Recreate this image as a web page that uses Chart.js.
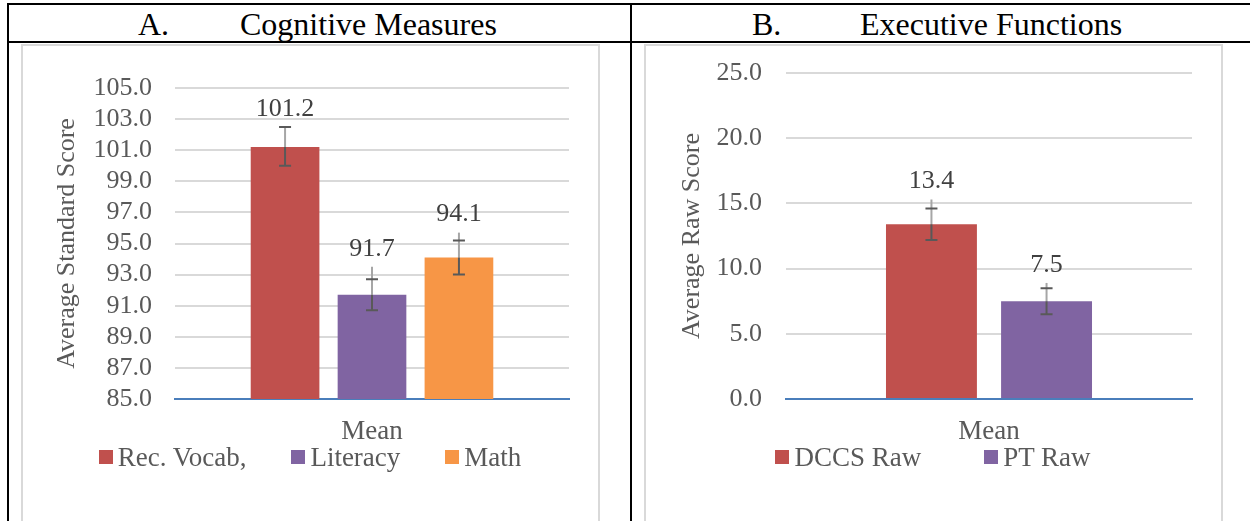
<!DOCTYPE html>
<html>
<head>
<meta charset="utf-8">
<script src="https://cdn.jsdelivr.net/npm/chart.js@4.4.1/dist/chart.umd.min.js"></script>
<style>
	body { margin: 0; background: #fff; width: 1250px; height: 521px; overflow: hidden; position: relative; font-family: "Liberation Serif", "Times New Roman", serif; }
	.line { position: absolute; background: #000; }
	.frame { position: absolute; border: 2px solid #d9d9d9; box-sizing: border-box; }
	.head { position: absolute; font-size: 32px; line-height: 32px; color: #000; white-space: nowrap; }
	canvas { position: absolute; }
	.legend { position: absolute; display: flex; justify-content: center; font-size: 27px; line-height: 30px; color: #595959; white-space: nowrap; }
	.legend .item { display: flex; align-items: center; }
	.legend .box { width: 14px; height: 14px; margin-right: 5px; }
</style>
</head>
<body>
<div class="line" style="left:7px; top:3px; width:1243px; height:2px;"></div>
<div class="line" style="left:7px; top:3px; width:2px; height:518px;"></div>
<div class="line" style="left:630px; top:3px; width:2px; height:518px;"></div>
<div class="line" style="left:7px; top:41px; width:1243px; height:2px;"></div>

<div class="head" style="left:138px; top:8px;">A.</div>
<div class="head" style="left:240px; top:8px;">Cognitive Measures</div>
<div class="head" style="left:752px; top:8px;">B.</div>
<div class="head" style="left:860px; top:8px;">Executive Functions</div>

<div class="frame" style="left:21px; top:44px; width:579px; height:520px;"></div>
<div class="frame" style="left:644px; top:44px; width:579px; height:520px;"></div>

<canvas id="chartA" width="576" height="491" style="left:22px; top:30px;"></canvas>
<canvas id="chartB" width="576" height="491" style="left:645px; top:30px;"></canvas>

<div class="legend" id="legendA" style="left:22px; top:442px; width:576px; gap:45px;"></div>
<div class="legend" id="legendB" style="left:645px; top:442px; width:576px; gap:63px;"></div>

<script>
// panel A - cognitive measures
var cogCategory = ['Mean'];
var cogLabels = ['Rec. Vocab,', 'Literacy', 'Math'];
var cogMeans = [101.2, 91.7, 94.1];
var cogErrLow = [100.0, 90.7, 93.0];
var cogErrHigh = [102.5, 92.7, 95.2];
var cogErrTop = [102.5, 93.5, 95.7];
var cogColors = ['#c0504d', '#8064a2', '#f79646'];
var cogTicks = { min: 85, max: 105, step: 2 };

// panel B - executive functions
var efCategory = ['Mean'];
var efLabels = ['DCCS Raw', 'PT Raw'];
var efMeans = [13.4, 7.5];
var efErrLow = [12.2, 6.5];
var efErrHigh = [14.6, 8.5];
var efErrTop = [15.3, 8.9];
var efColors = ['#c0504d', '#8064a2'];
var efTicks = { min: 0, max: 25, step: 5 };

var fontFamily = '"Liberation Serif", "Times New Roman", serif';

// error bars + value labels
var errorBarPlugin = {
	id: 'errorBars',
	afterDatasetsDraw: function(chart) {
		var ctx = chart.ctx;
		var y = chart.scales.y;
		var err = chart.options.plugins.errorBars;
		ctx.save();
		for (var i = 0; i < chart.data.datasets.length; i++) {
			var bar = chart.getDatasetMeta(i).data[0];
			var x = bar.x;
			var yv = y.getPixelForValue(err.means[i]);
			var yLow = y.getPixelForValue(err.low[i]);
			var yHigh = y.getPixelForValue(err.high[i]);
			var yTop = y.getPixelForValue(err.top[i]);

			ctx.lineWidth = 2;
			ctx.strokeStyle = '#a6a6a6';
			ctx.beginPath();
			ctx.moveTo(x, yv);
			ctx.lineTo(x, yTop);
			ctx.stroke();

			ctx.strokeStyle = '#595959';
			ctx.beginPath();
			ctx.moveTo(x, yv);
			ctx.lineTo(x, yLow);
			ctx.moveTo(x - 6, yLow);
			ctx.lineTo(x + 6, yLow);
			ctx.moveTo(x - 6, yHigh);
			ctx.lineTo(x + 6, yHigh);
			ctx.stroke();

			ctx.fillStyle = '#404040';
			ctx.font = '26px ' + fontFamily;
			ctx.textAlign = 'center';
			ctx.textBaseline = 'middle';
			ctx.fillText(err.means[i].toFixed(1), x, yTop - 18);
		}
		ctx.restore();
	}
};

function makeChart(id, category, labels, means, colors, low, high, top, ticks, yTitle, opts) {
	var datasets = [];
	for (var i = 0; i < labels.length; i++) {
		datasets.push({
			label: labels[i],
			data: [means[i]],
			backgroundColor: colors[i],
			borderWidth: 0,
			barPercentage: opts.barPct,
			categoryPercentage: opts.catPct
		});
	}
	return new Chart(document.getElementById(id), {
		type: 'bar',
		data: { labels: category, datasets: datasets },
		plugins: [errorBarPlugin],
		options: {
			responsive: false,
			animation: false,
			devicePixelRatio: 1,
			layout: { padding: { left: opts.padLeft, right: 29, top: opts.padTop, bottom: 0 } },
			plugins: {
				legend: { display: false },
				tooltip: { enabled: false },
				errorBars: { means: means, low: low, high: high, top: top }
			},
			scales: {
				x: {
					grid: { display: false },
					border: { display: true, color: '#4a7ebb', width: 2 },
					ticks: { color: '#595959', padding: 9, font: { family: fontFamily, size: 27 } },
					afterFit: function(s) { s.height = 122; }
				},
				y: {
					min: ticks.min,
					max: ticks.max,
					grid: { color: '#d9d9d9', lineWidth: 2, drawTicks: false },
					border: { display: false },
					ticks: {
						stepSize: ticks.step,
						autoSkip: false,
						padding: opts.tickPad,
						color: '#595959',
						font: { family: fontFamily, size: 26 },
						callback: function(v) { return Number(v).toFixed(1); }
					},
					title: {
						display: true,
						text: yTitle,
						color: '#595959',
						padding: 0,
						font: { family: fontFamily, size: 26 }
					},
					afterFit: function(s) { s.width = opts.axisWidth; }
				}
			}
		}
	});
}

function makeLegend(id, labels, colors) {
	var el = document.getElementById(id);
	for (var i = 0; i < labels.length; i++) {
		var item = document.createElement('div');
		item.className = 'item';
		var box = document.createElement('span');
		box.className = 'box';
		box.style.background = colors[i];
		var txt = document.createElement('span');
		txt.textContent = labels[i];
		item.appendChild(box);
		item.appendChild(txt);
		el.appendChild(item);
	}
}

makeChart('chartA', cogCategory, cogLabels, cogMeans, cogColors, cogErrLow, cogErrHigh, cogErrTop, cogTicks,
	'Average Standard Score', { barPct: 0.79, catPct: 0.662, padLeft: 30, padTop: 58, axisWidth: 123, tickPad: 23 });
makeChart('chartB', efCategory, efLabels, efMeans, efColors, efErrLow, efErrHigh, efErrTop, efTicks,
	'Average Raw Score', { barPct: 0.79, catPct: 0.567, padLeft: 32, padTop: 43, axisWidth: 109, tickPad: 24 });

makeLegend('legendA', cogLabels, cogColors);
makeLegend('legendB', efLabels, efColors);
</script>
</body>
</html>
